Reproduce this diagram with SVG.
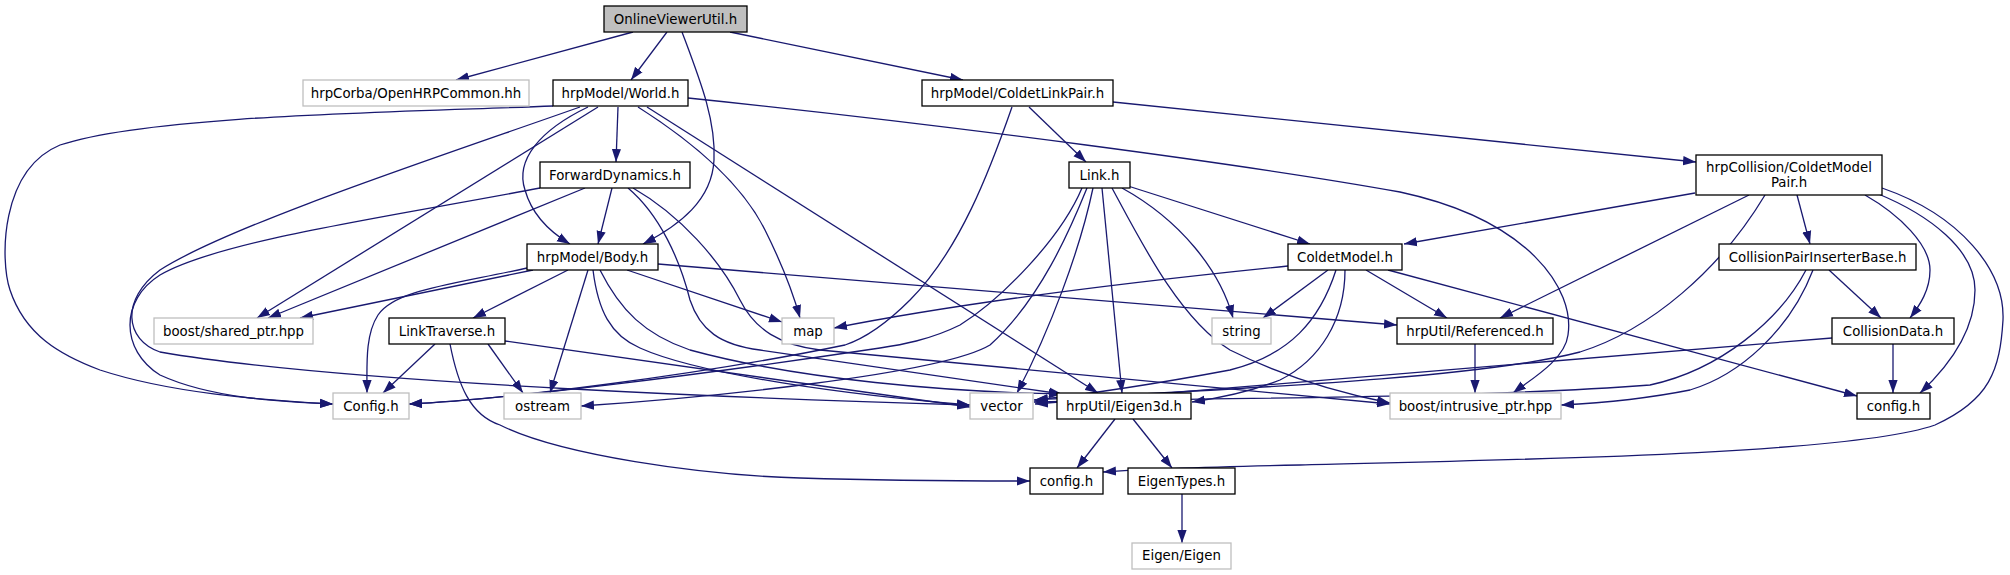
<svg xmlns="http://www.w3.org/2000/svg" width="2010" height="575" viewBox="0 0 2010 575">
<defs>
<style>
.n rect{fill:#ffffff;stroke:#000000;stroke-width:1.3}
.g rect{fill:#ffffff;stroke:#bfbfbf;stroke-width:1.3}
.r rect{fill:#bfbfbf;stroke:#000000;stroke-width:1.3}
text{font-family:"DejaVu Sans","Liberation Sans",sans-serif;font-size:13.33px;fill:#000000;text-anchor:middle}
#edges path{fill:none;stroke:#191970;stroke-width:1.3;marker-end:url(#a)}
</style>
<marker id="a" markerWidth="13" markerHeight="10" refX="13" refY="5" orient="auto" markerUnits="userSpaceOnUse">
<path d="M0,0.4 L13,5 L0,9.6 z" fill="#191970"/>
</marker>
</defs>
<rect width="2010" height="575" fill="#ffffff"/>
<g id="edges">
<path d="M633,32 L456,80"/>
<path d="M667,32 L631,80"/>
<path d="M682,32 C700,80 716,120 714,160 C712,200 680,225 643,244"/>
<path d="M730,32 L963,80"/>
<path d="M553,106 C400,112 150,115 60,145 C0,170 0,260 10,290 C25,335 60,355 100,370 C170,393 260,400 333,404"/>
<path d="M580,107 C450,153 230,225 160,270 C120,300 125,340 160,352 C350,385 800,400 970,405"/>
<path d="M598,107 L257,318"/>
<path d="M588,107 C540,130 515,160 525,190 C532,215 550,232 570,244"/>
<path d="M618,107 L616,162"/>
<path d="M638,107 C690,140 740,180 765,230 C785,270 795,300 800,318"/>
<path d="M647,107 L1098,393"/>
<path d="M688,98 C950,125 1250,165 1400,192 C1530,220 1575,290 1568,335 C1565,360 1530,380 1513,393"/>
<path d="M1012,107 C990,170 960,250 910,300 C880,330 860,340 845,345 C700,375 500,400 409,404"/>
<path d="M1029,107 L1086,162"/>
<path d="M1113,102 L1696,162"/>
<path d="M612,188 L598,244"/>
<path d="M585,188 L268,318"/>
<path d="M540,188 C400,215 220,240 160,275 C120,300 120,350 160,375 C210,398 280,402 333,404"/>
<path d="M628,188 C660,215 680,260 690,300 C700,330 720,345 760,350 C900,370 1000,385 1062,394"/>
<path d="M633,188 C680,215 720,260 740,300 C755,330 780,345 820,350 C1100,375 1300,395 1390,404"/>
<path d="M1082,188 C1060,240 1000,300 960,325 C930,340 900,345 880,348 C700,375 500,400 409,404"/>
<path d="M1087,188 C1070,230 1040,300 990,345 C940,375 700,398 581,406"/>
<path d="M1093,188 C1080,250 1050,330 1017,393"/>
<path d="M1102,188 L1122,393"/>
<path d="M1112,188 C1140,240 1180,320 1230,350 C1290,380 1350,395 1390,403"/>
<path d="M1122,188 C1180,220 1220,270 1233,318"/>
<path d="M1128,186 L1310,244"/>
<path d="M533,270 L300,318"/>
<path d="M527,268 C450,285 395,290 378,315 C365,335 367,365 367,393"/>
<path d="M568,270 L473,318"/>
<path d="M588,270 L550,393"/>
<path d="M593,270 C598,310 610,335 640,348 C700,375 850,395 970,405"/>
<path d="M600,270 C620,310 645,335 690,350 C800,380 950,392 1062,394"/>
<path d="M627,270 L782,322"/>
<path d="M658,264 L1397,325"/>
<path d="M435,344 L383,393"/>
<path d="M450,344 C458,385 470,415 500,425 C560,455 700,475 800,478 C900,481 980,481 1030,481"/>
<path d="M488,344 L523,393"/>
<path d="M505,341 L970,407"/>
<path d="M1695,193 L1404,244"/>
<path d="M1749,195 L1500,318"/>
<path d="M1765,195 C1720,270 1650,330 1580,352 C1480,378 1250,388 1034,400"/>
<path d="M1797,195 L1810,244"/>
<path d="M1865,195 C1900,215 1930,245 1930,270 C1930,290 1920,305 1910,318"/>
<path d="M1876,193 C1930,215 1975,250 1975,290 C1975,330 1950,365 1920,393"/>
<path d="M1882,188 C1960,215 2005,270 2003,320 C2000,370 1990,400 1935,425 C1850,455 1500,460 1300,465 C1200,467 1130,470 1103,472"/>
<path d="M1288,266 C1100,285 950,305 834,328"/>
<path d="M1328,270 L1263,318"/>
<path d="M1336,270 C1320,320 1290,355 1230,370 C1150,385 1080,395 1035,400"/>
<path d="M1345,270 C1345,320 1320,360 1280,380 C1250,392 1220,398 1192,402"/>
<path d="M1366,270 L1447,318"/>
<path d="M1388,270 L1857,396"/>
<path d="M1829,270 L1881,318"/>
<path d="M1806,270 C1780,320 1720,370 1650,385 C1450,400 1150,398 1034,402"/>
<path d="M1813,270 C1790,330 1740,375 1690,390 C1640,400 1600,403 1561,405"/>
<path d="M1832,338 L1035,404"/>
<path d="M1893,344 L1893,393"/>
<path d="M1475,344 L1475,393"/>
<path d="M1115,419 L1077,468"/>
<path d="M1133,419 L1172,468"/>
<path d="M1182,494 L1182,543"/>
</g>
<g id="OnlineViewerUtil" class="r"><rect x="604" y="6" width="143" height="26"/><text x="675.5" y="23.5">OnlineViewerUtil.h</text></g>
<g id="OpenHRPCommon" class="g"><rect x="303" y="80" width="226" height="26"/><text x="416" y="97.5">hrpCorba/OpenHRPCommon.hh</text></g>
<g id="World" class="n"><rect x="553" y="80" width="135" height="26"/><text x="620.5" y="97.5">hrpModel/World.h</text></g>
<g id="ColdetLinkPair" class="n"><rect x="922" y="80" width="191" height="26"/><text x="1017.5" y="97.5">hrpModel/ColdetLinkPair.h</text></g>
<g id="ColdetModelPair" class="n"><rect x="1696" y="155" width="186" height="40"/><text x="1789" y="172">hrpCollision/ColdetModel</text><text x="1789" y="186.5">Pair.h</text></g>
<g id="ForwardDynamics" class="n"><rect x="540" y="162" width="150" height="26"/><text x="615" y="179.5">ForwardDynamics.h</text></g>
<g id="Link" class="n"><rect x="1069" y="162" width="61" height="26"/><text x="1099.5" y="179.5">Link.h</text></g>
<g id="Body" class="n"><rect x="527" y="244" width="131" height="26"/><text x="592.5" y="261.5">hrpModel/Body.h</text></g>
<g id="ColdetModel" class="n"><rect x="1288" y="244" width="114" height="26"/><text x="1345" y="261.5">ColdetModel.h</text></g>
<g id="CollisionPairInserterBase" class="n"><rect x="1719" y="244" width="197" height="26"/><text x="1817.5" y="261.5">CollisionPairInserterBase.h</text></g>
<g id="shared_ptr" class="g"><rect x="154" y="318" width="159" height="26"/><text x="233.5" y="335.5">boost/shared_ptr.hpp</text></g>
<g id="map" class="g"><rect x="782" y="318" width="52" height="26"/><text x="808" y="335.5">map</text></g>
<g id="LinkTraverse" class="n"><rect x="389" y="318" width="116" height="26"/><text x="447" y="335.5">LinkTraverse.h</text></g>
<g id="string" class="g"><rect x="1212" y="318" width="59" height="26"/><text x="1241.5" y="335.5">string</text></g>
<g id="Referenced" class="n"><rect x="1397" y="318" width="156" height="26"/><text x="1475" y="335.5">hrpUtil/Referenced.h</text></g>
<g id="CollisionData" class="n"><rect x="1832" y="318" width="122" height="26"/><text x="1893" y="335.5">CollisionData.h</text></g>
<g id="Config" class="g"><rect x="333" y="393" width="76" height="26"/><text x="371" y="410.5">Config.h</text></g>
<g id="ostream" class="g"><rect x="504" y="393" width="77" height="26"/><text x="542.5" y="410.5">ostream</text></g>
<g id="vector" class="g"><rect x="970" y="393" width="63" height="26"/><text x="1001.5" y="410.5">vector</text></g>
<g id="Eigen3d" class="n"><rect x="1057" y="393" width="134" height="26"/><text x="1124" y="410.5">hrpUtil/Eigen3d.h</text></g>
<g id="intrusive_ptr" class="g"><rect x="1390" y="393" width="171" height="26"/><text x="1475.5" y="410.5">boost/intrusive_ptr.hpp</text></g>
<g id="configR" class="n"><rect x="1857" y="393" width="73" height="26"/><text x="1893.5" y="410.5">config.h</text></g>
<g id="configB" class="n"><rect x="1030" y="468" width="73" height="26"/><text x="1066.5" y="485.5">config.h</text></g>
<g id="EigenTypes" class="n"><rect x="1128" y="468" width="107" height="26"/><text x="1181.5" y="485.5">EigenTypes.h</text></g>
<g id="EigenEigen" class="g"><rect x="1132" y="543" width="99" height="26"/><text x="1181.5" y="560">Eigen/Eigen</text></g>
</svg>
